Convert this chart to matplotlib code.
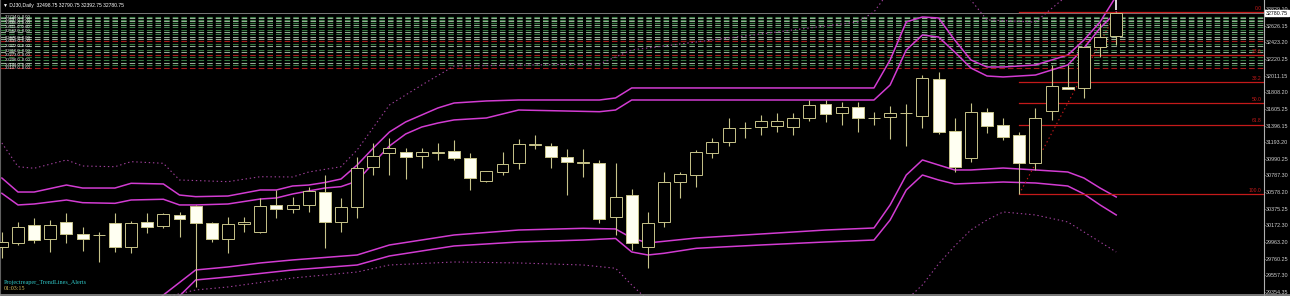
# DJ30 daily chart with bands, level lines and a fibo retracement

import matplotlib
matplotlib.use("Agg")
import matplotlib.pyplot as plt
from matplotlib.patches import Rectangle
from matplotlib.lines import Line2D
import matplotlib.transforms as mtrans

plt.rcParams['lines.scale_dashes'] = False

# daily candles, oldest first
opens = [29911, 29953, 30178, 30002, 30218, 30067, 30055, 30202, 29911, 30218,
         30165, 30301, 30415, 30206, 30002, 30190, 30095, 30424, 30374, 30424,
         30587, 30215, 30399, 30894, 31059, 31071, 31026, 31065, 31087, 30998,
         30722, 30833, 30943, 31165, 31149, 31017, 30945, 30936, 30280, 30546,
         29904, 30218, 30703, 30792, 31063, 31198, 31365, 31382, 31394, 31382,
         31493, 31665, 31554, 31628, 31493, 31501, 31551, 31521, 31972, 31337,
         31005, 31563, 31407, 31284, 30940, 31583, 31877, 31858, 32362, 32498.75]
highs = [30095, 30218, 30264, 30239, 30325, 30157, 30095, 30325, 30231, 30325,
         30325, 30341, 30424, 30218, 30280, 30276, 30510, 30608, 30526, 30645,
         30792, 30510, 31013, 31186, 31247, 31124, 31124, 31186, 31223, 31063,
         30841, 31079, 31235, 31284, 31182, 31108, 31108, 30977, 30936, 30617,
         30341, 30833, 30833, 31100, 31247, 31493, 31444, 31530, 31554, 31554,
         31714, 31714, 31690, 31690, 31567, 31640, 31665, 32021, 32062, 31489,
         31673, 31619, 31493, 31321, 31616, 32144, 32144, 32362, 32657, 32790.75]
lows = [29772, 29932, 29957, 29850, 29957, 29862, 29727, 29850, 29837, 30079,
        30141, 30034, 29419, 29972, 29837, 30095, 30079, 30264, 30325, 30341,
        29895, 30092, 30264, 30792, 30792, 30743, 30878, 30977, 30977, 30608,
        30710, 30792, 30862, 31108, 30875, 30546, 30764, 30206, 30055, 29871,
        29649, 30157, 30506, 30641, 31001, 31149, 31247, 31284, 31321, 31284,
        31456, 31444, 31407, 31321, 31407, 31231, 31149, 31374, 31296, 30833,
        30956, 31312, 31223, 30560, 30854, 31469, 31846, 31735, 32246, 32392.75]
closes = [29973, 30157, 29993, 30178, 30067, 30006, 30050, 29911, 30206, 30157,
          30313, 30252, 30199, 30002, 30190, 30211, 30411, 30371, 30424, 30599,
          30215, 30399, 30878, 31030, 31128, 31010, 31079, 31075, 30998, 30759,
          30841, 30927, 31170, 31175, 31010, 30956, 30950, 30248, 30526, 29953,
          30206, 30703, 30805, 31071, 31198, 31370, 31375, 31456, 31456, 31493,
          31653, 31542, 31628, 31493, 31490, 31558, 31550, 31981, 31324, 30887,
          31563, 31395, 31259, 30940, 31493, 31886, 31846, 32362, 32492, 32780.75]

# band lines: bar index -> price
upper1_idx = [0, 1, 2, 4, 5, 7, 8, 10, 11, 12, 14, 16, 17, 18, 19, 20, 21, 22, 23, 24,
              25, 26, 27, 28, 30, 32, 37, 38, 39, 54, 55, 56, 57, 58, 59, 60, 61, 62,
              64, 66, 67, 68, 69]
upper1 = [30755, 30583, 30583, 30669, 30632, 30632, 30690, 30682, 30546, 30526, 30534,
          30608, 30608, 30657, 30669, 30700, 30743, 30915, 31124, 31321, 31444, 31530,
          31616, 31677, 31702, 31714, 31714, 31739, 31862, 31862, 32206, 32673, 32734,
          32722, 32451, 32206, 32120, 32120, 32144, 32267, 32451, 32673, 32990]
upper2_idx = upper1_idx
upper2 = [30567, 30424, 30436, 30485, 30452, 30444, 30485, 30494, 30424, 30424, 30436,
          30497, 30510, 30559, 30596, 30632, 30649, 30718, 30940, 31149, 31296, 31382,
          31431, 31469, 31493, 31591, 31570, 31591, 31714, 31714, 31898, 32329, 32513,
          32488, 32304, 32107, 32009, 31997, 32021, 32144, 32353, 32599, 32795]
upper3_idx = [0, 1, 2, 4, 5, 7, 8, 10, 11, 14, 16, 18, 19, 21, 22, 24, 26, 28, 37, 39,
              53, 54, 55, 57, 59, 61, 64, 66, 69]
upper3 = [31186, 30894, 30875, 30977, 30903, 30894, 30956, 30936, 30731, 30710, 30771,
          30768, 30829, 30894, 31100, 31653, 31898, 32132, 32156, 32329, 32673, 32796,
          33066, 33680, 33189, 32697, 32673, 33004, 34049]
lower1_idx = [8, 10, 12, 14, 16, 18, 22, 24, 28, 32, 36, 38, 39, 40, 43, 47, 51, 54, 55,
              56, 57, 58, 59, 60, 62, 64, 66, 67, 68, 69]
lower1 = [29010, 29317, 29625, 29662, 29711, 29748, 29809, 29932, 30055, 30116, 30137,
          30129, 30018, 29957, 30018, 30067, 30116, 30141, 30424, 30792, 30977, 30915,
          30854, 30854, 30878, 30854, 30829, 30755, 30632, 30522]
lower2_idx = [9, 11, 12, 14, 16, 18, 22, 24, 28, 32, 36, 38, 39, 40, 41, 43, 47, 51, 54,
              55, 56, 57, 58, 59, 62, 64, 66, 67, 68, 69]
lower2 = [29010, 29305, 29502, 29539, 29582, 29625, 29686, 29797, 29920, 29969, 29993,
          30012, 29846, 29809, 29830, 29891, 29932, 29969, 29993, 30239, 30608, 30792,
          30731, 30682, 30706, 30694, 30657, 30559, 30424, 30301]
lower3_idx = [8, 12, 14, 18, 22, 24, 28, 32, 36, 38, 39, 40, 55, 56, 57, 58, 59, 60, 61,
              62, 64, 66, 68, 69]
lower3 = [29195, 29379, 29416, 29526, 29600, 29686, 29723, 29711, 29686, 29646, 29440,
          29256, 29256, 29256, 29440, 29700, 29920, 30117, 30240, 30338, 30301, 30215,
          29969, 29846]

# horizontal levels (top block) and their colours
level_prices = [32734, 32716, 32697, 32679, 32660, 32636, 32611, 32574, 32550, 32525,
                32488, 32464, 32439, 32402, 32372, 32329, 32304, 32273, 32243, 32206,
                32169, 32144, 32107]
level_kinds = ['g', 'w', 'g', 'w', 'g', 'w', 'g', 'g', 'w', 'g', 'w', 'w', 'r', 'g',
               'w', 'g', 'w', 'r', 'g', 'g', 'w', 'g', 'r']
level_label_prices = [32734, 32697, 32660, 32611, 32562, 32476, 32439, 32372, 32316,
                      32273, 32206, 32144, 32107]
level_labels = ['32734.0  0.00', '32697.0  0.00', '32660.0  0.00', '32611.0  0.00',
                '32562.0  0.00', '32476.0  0.00', '32439.0  0.00', '32372.0  0.00',
                '32316.0  0.00', '32273.0  0.00', '32206.0  0.00', '32144.0  0.00',
                '32107.0  0.00']

# fibo retracement
fib_low_idx, fib_high_idx = 63, 69
fib_low, fib_high = 30560, 32790.75
fib_levels = [0.0, 23.6, 38.2, 50.0, 61.8, 100.0]

price_ticks = [32829.10, 32626.15, 32423.20, 32220.25, 32011.15, 31808.20, 31605.25,
               31396.15, 31193.20, 30990.25, 30787.30, 30578.20, 30375.25, 30172.30,
               29963.20, 29760.25, 29557.30, 29354.35]
bid = 32780.75
title = "\u25bc DJ30,Daily  32498.75 32790.75 32392.75 32780.75"

edge = '#c8c48a'
white_body = '#fffff2'
band_col = '#d23cd2'
band_dot = '#a0409c'
fib_col = '#c41a1a'
lvl_col = {'g': '#357a40', 'w': '#98ae98', 'r': '#a81c1c'}

fig = plt.figure(figsize=(12.9, 2.96), dpi=100, facecolor='black')
ax = fig.add_axes([0, 0, 1264 / 1290, 1])
ax.set_facecolor('black')
ax.set_xlim(-0.115, 78.15)
ax.set_ylim(29305, 32943)
bt = mtrans.blended_transform_factory(ax.transAxes, ax.transData)

# level lines
for p, k in zip(level_prices, level_kinds):
    ax.axhline(p, color=lvl_col[k], lw=0.8, dashes=(4, 2.2), zorder=1)
for p, s in zip(level_label_prices, level_labels):
    ax.text(0.004, p, s, transform=bt, color='white', fontsize=3,
            family='Liberation Sans', va='center', zorder=6)

# bid line
ax.axhline(bid, color='#8c8c8c', lw=0.6, zorder=1)

# bands
ax.plot(upper1_idx, upper1, color=band_col, lw=1.1, zorder=2)
ax.plot(upper2_idx, upper2, color=band_col, lw=1.1, zorder=2)
ax.plot(lower1_idx, lower1, color=band_col, lw=1.1, zorder=2)
ax.plot(lower2_idx, lower2, color=band_col, lw=1.1, zorder=2)
ax.plot(upper3_idx, upper3, color=band_dot, lw=0.8, dashes=(1, 2), zorder=2)
ax.plot(lower3_idx, lower3, color=band_dot, lw=0.8, dashes=(1, 2), zorder=2)

# fibo
rng = fib_high - fib_low
for lv in fib_levels:
    y = fib_high - rng * lv / 100
    ax.plot([fib_low_idx, ax.get_xlim()[1]], [y, y], color=fib_col, lw=0.9, zorder=2)
    ax.text(0.998, y + 15, '%.1f' % lv, transform=bt, color=fib_col, fontsize=3.6,
            family='Liberation Sans', ha='right', va='bottom', zorder=6)
ax.plot([fib_low_idx, fib_high_idx], [fib_low, fib_high], color=fib_col, lw=0.8,
        dashes=(1, 2), zorder=2)

# candles
bw = 0.74
for i in range(len(opens)):
    o, h, l, c = opens[i], highs[i], lows[i], closes[i]
    ax.vlines(i, l, h, color=edge, lw=0.8, zorder=3)
    lo = min(o, c)
    ht = max(abs(c - o), 8)
    face = 'black' if c >= o else white_body
    ax.add_patch(Rectangle((i - bw / 2, lo), bw, ht, facecolor=face, edgecolor=edge,
                           lw=0.7, zorder=4))
ax.vlines(len(opens) - 1, 32825, 32943, color='white', lw=1.2, zorder=4)

# axes look
for s in ['top', 'bottom']:
    ax.spines[s].set_visible(False)
ax.spines['right'].set_color('#b0b0b0')
ax.spines['right'].set_linewidth(0.8)
ax.spines['left'].set_color('#606060')
ax.spines['left'].set_linewidth(0.8)
ax.set_xticks([])
ax.yaxis.tick_right()
ax.set_yticks(price_ticks)
ax.set_yticklabels(['%.2f' % t for t in price_ticks])
ax.tick_params(axis='y', colors='#b0b0b0', labelcolor='#d0d0d0', labelsize=3.9,
               length=1, width=0.6, pad=0.5)
for lab in ax.get_yticklabels():
    lab.set_family('Liberation Sans')

ax.text(1.0015, bid, '%.2f' % bid, transform=bt, fontsize=3.8, family='Liberation Sans',
        color='black', va='center', ha='left', clip_on=False, zorder=7,
        bbox=dict(boxstyle='square,pad=0.1', facecolor='white', edgecolor='white'))

fig.text(3 / 1290, 1 - 5 / 296, title, color='white', fontsize=3.6, va='center',
         family=['Liberation Sans', 'DejaVu Sans'])
fig.text(4 / 1290, 1 - 282.5 / 296, 'Projectreaper_TrendLines_Alerts', color='#30c8c8',
         fontsize=4.4, family='Liberation Serif', va='center')
fig.text(4 / 1290, 1 - 289 / 296, '01:03:15', color='#d8c060', fontsize=4.3,
         family='Liberation Serif', va='center')
fig.add_artist(Line2D([0, 1], [1.5 / 296, 1.5 / 296], color='#909090', lw=1.2))

fig.savefig('out.png', dpi=100, facecolor='black')
